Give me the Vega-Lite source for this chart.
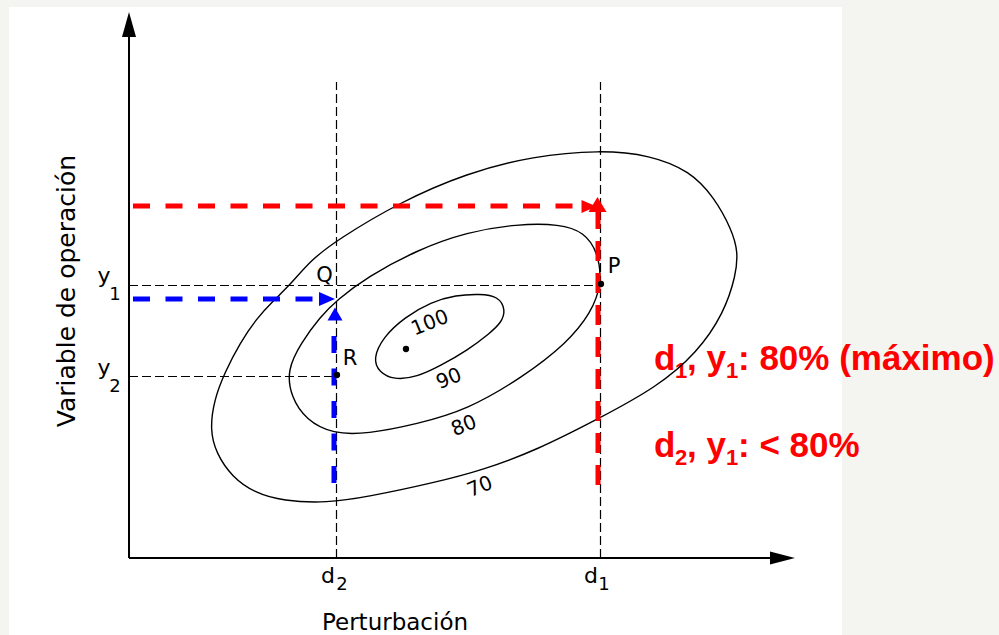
{
  "$schema": "https://vega.github.io/schema/vega-lite/v6.json",
  "width": 999,
  "height": 635,
  "autosize": {"type": "fit", "contains": "padding"},
  "padding": 0,
  "background": "#f4f4f1",
  "view": {"stroke": null},
  "datasets": {
    "sheet": [{"u": -120, "u2": 713, "v": 551, "v2": -77}],
    "contours": [
      {"level": 70, "ord": 0, "u": 471, "v": 408},
      {"level": 70, "ord": 1, "u": 521, "v": 403},
      {"level": 70, "ord": 2, "u": 561, "v": 387},
      {"level": 70, "ord": 3, "u": 585, "v": 361},
      {"level": 70, "ord": 4, "u": 603, "v": 328},
      {"level": 70, "ord": 5, "u": 609, "v": 306},
      {"level": 70, "ord": 6, "u": 607, "v": 283},
      {"level": 70, "ord": 7, "u": 595, "v": 245},
      {"level": 70, "ord": 8, "u": 568, "v": 205},
      {"level": 70, "ord": 9, "u": 528, "v": 171},
      {"level": 70, "ord": 10, "u": 471, "v": 140},
      {"level": 70, "ord": 11, "u": 408, "v": 108},
      {"level": 70, "ord": 12, "u": 354, "v": 88},
      {"level": 70, "ord": 13, "u": 304, "v": 75},
      {"level": 70, "ord": 14, "u": 238, "v": 61},
      {"level": 70, "ord": 15, "u": 198, "v": 55},
      {"level": 70, "ord": 16, "u": 154, "v": 57},
      {"level": 70, "ord": 17, "u": 126, "v": 65},
      {"level": 70, "ord": 18, "u": 103, "v": 81},
      {"level": 70, "ord": 19, "u": 87, "v": 105},
      {"level": 70, "ord": 20, "u": 81, "v": 128},
      {"level": 70, "ord": 21, "u": 85, "v": 158},
      {"level": 70, "ord": 22, "u": 96, "v": 186},
      {"level": 70, "ord": 23, "u": 111, "v": 215},
      {"level": 70, "ord": 24, "u": 128, "v": 240},
      {"level": 70, "ord": 25, "u": 145, "v": 258},
      {"level": 70, "ord": 26, "u": 161, "v": 273},
      {"level": 70, "ord": 27, "u": 182, "v": 298},
      {"level": 70, "ord": 28, "u": 208, "v": 318},
      {"level": 70, "ord": 29, "u": 271, "v": 356},
      {"level": 70, "ord": 30, "u": 338, "v": 385},
      {"level": 70, "ord": 31, "u": 404, "v": 402},
      {"level": 80, "ord": 0, "u": 431, "v": 334},
      {"level": 80, "ord": 1, "u": 455, "v": 326},
      {"level": 80, "ord": 2, "u": 469, "v": 306},
      {"level": 80, "ord": 3, "u": 473, "v": 274},
      {"level": 80, "ord": 4, "u": 462, "v": 245},
      {"level": 80, "ord": 5, "u": 438, "v": 215},
      {"level": 80, "ord": 6, "u": 394, "v": 181},
      {"level": 80, "ord": 7, "u": 338, "v": 148},
      {"level": 80, "ord": 8, "u": 288, "v": 134},
      {"level": 80, "ord": 9, "u": 238, "v": 124},
      {"level": 80, "ord": 10, "u": 204, "v": 124},
      {"level": 80, "ord": 11, "u": 177, "v": 138},
      {"level": 80, "ord": 12, "u": 162, "v": 161},
      {"level": 80, "ord": 13, "u": 158, "v": 188},
      {"level": 80, "ord": 14, "u": 172, "v": 215},
      {"level": 80, "ord": 15, "u": 191, "v": 241},
      {"level": 80, "ord": 16, "u": 208, "v": 258},
      {"level": 80, "ord": 17, "u": 238, "v": 281},
      {"level": 80, "ord": 18, "u": 288, "v": 308},
      {"level": 80, "ord": 19, "u": 338, "v": 326},
      {"level": 80, "ord": 20, "u": 388, "v": 334},
      {"level": 90, "ord": 0, "u": 351, "v": 264},
      {"level": 90, "ord": 1, "u": 369, "v": 262},
      {"level": 90, "ord": 2, "u": 377, "v": 248},
      {"level": 90, "ord": 3, "u": 372, "v": 235},
      {"level": 90, "ord": 4, "u": 361, "v": 225},
      {"level": 90, "ord": 5, "u": 339, "v": 208},
      {"level": 90, "ord": 6, "u": 311, "v": 192},
      {"level": 90, "ord": 7, "u": 288, "v": 181},
      {"level": 90, "ord": 8, "u": 265, "v": 178},
      {"level": 90, "ord": 9, "u": 250, "v": 186},
      {"level": 90, "ord": 10, "u": 244, "v": 199},
      {"level": 90, "ord": 11, "u": 254, "v": 221},
      {"level": 90, "ord": 12, "u": 276, "v": 241},
      {"level": 90, "ord": 13, "u": 302, "v": 256},
      {"level": 90, "ord": 14, "u": 327, "v": 263}
    ],
    "guides": [
      {"g": "thin", "id": "d2", "ord": 0, "u": 207.5, "v": 0},
      {"g": "thin", "id": "d2", "ord": 1, "u": 207.5, "v": 476},
      {"g": "thin", "id": "d1", "ord": 0, "u": 471.5, "v": 0},
      {"g": "thin", "id": "d1", "ord": 1, "u": 471.5, "v": 476},
      {"g": "thin", "id": "y1", "ord": 0, "u": 0, "v": 272.5},
      {"g": "thin", "id": "y1", "ord": 1, "u": 472, "v": 272.5},
      {"g": "thin", "id": "y2", "ord": 0, "u": 0, "v": 181.5},
      {"g": "thin", "id": "y2", "ord": 1, "u": 208, "v": 181.5},
      {"g": "axis", "id": "yaxis", "ord": 0, "u": 0, "v": 0},
      {"g": "axis", "id": "yaxis", "ord": 1, "u": 0, "v": 526},
      {"g": "axis", "id": "xaxis", "ord": 0, "u": 0, "v": 0},
      {"g": "axis", "id": "xaxis", "ord": 1, "u": 645, "v": 0},
      {"g": "redh", "id": "rh", "ord": 0, "u": 4, "v": 352},
      {"g": "redh", "id": "rh", "ord": 1, "u": 453, "v": 352},
      {"g": "redv", "id": "rv", "ord": 0, "u": 469, "v": 73},
      {"g": "redv", "id": "rv", "ord": 1, "u": 469, "v": 346},
      {"g": "blue", "id": "bh", "ord": 0, "u": 4, "v": 259},
      {"g": "blue", "id": "bh", "ord": 1, "u": 190, "v": 259},
      {"g": "blue", "id": "bv", "ord": 0, "u": 205, "v": 75},
      {"g": "blue", "id": "bv", "ord": 1, "u": 205, "v": 237}
    ],
    "heads": [
      {"id": "yaxis", "u": 0, "v": 533.5},
      {"id": "xaxis", "u": 653.5, "v": 0},
      {"id": "redright", "u": 460, "v": 351.5},
      {"id": "redup", "u": 468.5, "v": 353.5},
      {"id": "blueright", "u": 198, "v": 259},
      {"id": "blueup", "u": 206, "v": 244}
    ],
    "dots": [
      {"name": "P", "u": 472, "v": 274},
      {"name": "R", "u": 208, "v": 183},
      {"name": "centro", "u": 277, "v": 209}
    ],
    "labels": [
      {"g": "main", "t": "y", "u": -25, "v": 275},
      {"g": "sub", "t": "1", "u": -14, "v": 258},
      {"g": "main", "t": "y", "u": -25, "v": 183},
      {"g": "sub", "t": "2", "u": -14, "v": 166},
      {"g": "main", "t": "d", "u": 199, "v": -25},
      {"g": "sub", "t": "2", "u": 213, "v": -32},
      {"g": "main", "t": "d", "u": 462, "v": -25},
      {"g": "sub", "t": "1", "u": 475, "v": -32},
      {"g": "point", "t": "Q", "u": 195.5, "v": 276},
      {"g": "point", "t": "P", "u": 485, "v": 285},
      {"g": "point", "t": "R", "u": 221, "v": 193},
      {"g": "level", "t": "100", "u": 301, "v": 235},
      {"g": "level", "t": "90", "u": 320, "v": 179},
      {"g": "level", "t": "80", "u": 335, "v": 132},
      {"g": "level", "t": "70", "u": 351, "v": 71},
      {"g": "xtitle", "t": "Perturbación", "u": 266, "v": -72},
      {"g": "ytitle", "t": "Variable de operación", "u": -54, "v": 267},
      {"g": "note", "t": "d", "u": 525, "v": 188},
      {"g": "notesub", "t": "1", "u": 546, "v": 180},
      {"g": "note", "t": ", y", "u": 558, "v": 188},
      {"g": "notesub", "t": "1", "u": 597, "v": 180},
      {"g": "note", "t": ": 80% (máximo)", "u": 609, "v": 188},
      {"g": "note", "t": "d", "u": 525, "v": 101},
      {"g": "notesub", "t": "2", "u": 546, "v": 93},
      {"g": "note", "t": ", y", "u": 558, "v": 101},
      {"g": "notesub", "t": "1", "u": 597, "v": 93},
      {"g": "note", "t": ": < 80%", "u": 609, "v": 101}
    ]
  },
  "encoding": {
    "x": {"field": "u", "type": "quantitative", "scale": {"domain": [-129, 870], "nice": false, "zero": false}, "axis": null},
    "y": {"field": "v", "type": "quantitative", "scale": {"domain": [-77, 558], "nice": false, "zero": false}, "axis": null}
  },
  "layer": [
    {
      "data": {"name": "sheet"},
      "mark": {"type": "rect", "color": "#ffffff"},
      "encoding": {"x2": {"field": "u2"}, "y2": {"field": "v2"}}
    },
    {
      "data": {"name": "labels"},
      "transform": [{"filter": "datum.g === 'note'"}],
      "mark": {"type": "text", "font": "Liberation Sans", "fontWeight": "bold", "fontSize": 35, "color": "#ff0000", "align": "left", "baseline": "alphabetic"},
      "encoding": {"text": {"field": "t"}}
    },
    {
      "data": {"name": "labels"},
      "transform": [{"filter": "datum.g === 'notesub'"}],
      "mark": {"type": "text", "font": "Liberation Sans", "fontWeight": "bold", "fontSize": 22, "color": "#ff0000", "align": "left", "baseline": "alphabetic"},
      "encoding": {"text": {"field": "t"}}
    },
    {
      "data": {"name": "guides"},
      "transform": [{"filter": "datum.g === 'thin'"}],
      "mark": {"type": "line", "color": "#000000", "strokeWidth": 1.2, "strokeDash": [9, 4]},
      "encoding": {"detail": {"field": "id"}, "order": {"field": "ord"}}
    },
    {
      "data": {"name": "guides"},
      "transform": [{"filter": "datum.g === 'axis'"}],
      "mark": {"type": "line", "color": "#000000", "strokeWidth": 2},
      "encoding": {"detail": {"field": "id"}, "order": {"field": "ord"}}
    },
    {
      "data": {"name": "contours"},
      "mark": {"type": "line", "color": "#000000", "strokeWidth": 1.4, "interpolate": "basis-closed"},
      "encoding": {"detail": {"field": "level"}, "order": {"field": "ord"}}
    },
    {
      "data": {"name": "guides"},
      "transform": [{"filter": "datum.g === 'redh'"}],
      "mark": {"type": "line", "color": "#ff0000", "strokeWidth": 5, "strokeDash": [17, 15.5]},
      "encoding": {"detail": {"field": "id"}, "order": {"field": "ord"}}
    },
    {
      "data": {"name": "guides"},
      "transform": [{"filter": "datum.g === 'redv'"}],
      "mark": {"type": "line", "color": "#ff0000", "strokeWidth": 5, "strokeDash": [20, 12]},
      "encoding": {"detail": {"field": "id"}, "order": {"field": "ord"}}
    },
    {
      "data": {"name": "guides"},
      "transform": [{"filter": "datum.g === 'blue'"}],
      "mark": {"type": "line", "color": "#0000ff", "strokeWidth": 5, "strokeDash": [17, 15.5]},
      "encoding": {"detail": {"field": "id"}, "order": {"field": "ord"}}
    },
    {
      "data": {"name": "heads"},
      "transform": [{"filter": "datum.id === 'yaxis'"}],
      "mark": {"type": "point", "filled": true, "opacity": 1, "strokeWidth": 0, "color": "#000000", "size": 625, "shape": "M0,-1L0.56,1L-0.56,1Z"}
    },
    {
      "data": {"name": "heads"},
      "transform": [{"filter": "datum.id === 'xaxis'"}],
      "mark": {"type": "point", "filled": true, "opacity": 1, "strokeWidth": 0, "color": "#000000", "size": 625, "shape": "M1,0L-1,0.52L-1,-0.52Z"}
    },
    {
      "data": {"name": "heads"},
      "transform": [{"filter": "datum.id === 'redright'"}],
      "mark": {"type": "point", "filled": true, "opacity": 1, "strokeWidth": 0, "color": "#ff0000", "size": 225, "shape": "M1,0L-1,0.87L-1,-0.87Z"}
    },
    {
      "data": {"name": "heads"},
      "transform": [{"filter": "datum.id === 'redup'"}],
      "mark": {"type": "point", "filled": true, "opacity": 1, "strokeWidth": 0, "color": "#ff0000", "size": 324, "shape": "M0,-0.83L1,0.83L-1,0.83Z"}
    },
    {
      "data": {"name": "heads"},
      "transform": [{"filter": "datum.id === 'blueright'"}],
      "mark": {"type": "point", "filled": true, "opacity": 1, "strokeWidth": 0, "color": "#0000ff", "size": 256, "shape": "M1,0L-1,0.875L-1,-0.875Z"}
    },
    {
      "data": {"name": "heads"},
      "transform": [{"filter": "datum.id === 'blueup'"}],
      "mark": {"type": "point", "filled": true, "opacity": 1, "strokeWidth": 0, "color": "#0000ff", "size": 225, "shape": "M0,-0.87L1,0.87L-1,0.87Z"}
    },
    {
      "data": {"name": "dots"},
      "mark": {"type": "circle", "color": "#000000", "opacity": 1, "size": 40}
    },
    {
      "data": {"name": "labels"},
      "transform": [{"filter": "datum.g === 'main'"}],
      "mark": {"type": "text", "font": "DejaVu Sans", "fontSize": 22, "color": "#000000", "align": "center", "baseline": "alphabetic"},
      "encoding": {"text": {"field": "t"}}
    },
    {
      "data": {"name": "labels"},
      "transform": [{"filter": "datum.g === 'sub'"}],
      "mark": {"type": "text", "font": "DejaVu Sans", "fontSize": 18, "color": "#000000", "align": "center", "baseline": "alphabetic"},
      "encoding": {"text": {"field": "t"}}
    },
    {
      "data": {"name": "labels"},
      "transform": [{"filter": "datum.g === 'point'"}],
      "mark": {"type": "text", "font": "DejaVu Sans", "fontSize": 21, "color": "#000000", "align": "center", "baseline": "alphabetic"},
      "encoding": {"text": {"field": "t"}}
    },
    {
      "data": {"name": "labels"},
      "transform": [{"filter": "datum.g === 'level'"}],
      "mark": {"type": "text", "font": "DejaVu Sans", "fontSize": 20, "color": "#000000", "align": "center", "baseline": "middle", "angle": 338},
      "encoding": {"text": {"field": "t"}}
    },
    {
      "data": {"name": "labels"},
      "transform": [{"filter": "datum.g === 'xtitle'"}],
      "mark": {"type": "text", "font": "DejaVu Sans", "fontSize": 23, "color": "#000000", "align": "center", "baseline": "alphabetic"},
      "encoding": {"text": {"field": "t"}}
    },
    {
      "data": {"name": "labels"},
      "transform": [{"filter": "datum.g === 'ytitle'"}],
      "mark": {"type": "text", "font": "DejaVu Sans", "fontSize": 25, "color": "#000000", "align": "center", "baseline": "alphabetic", "angle": 270},
      "encoding": {"text": {"field": "t"}}
    }
  ]
}
